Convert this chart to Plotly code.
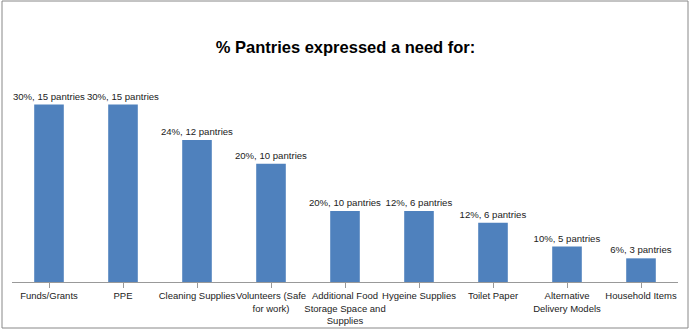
import plotly.graph_objects as go

categories = ["Funds/Grants", "PPE", "Cleaning Supplies", "Volunteers (Safe<br>for work)",
              "Additional Food<br>Storage Space and<br>Supplies", "Hygeine Supplies", "Toilet Paper",
              "Alternative<br>Delivery Models", "Household Items"]
values = [30, 30, 24, 20, 12, 12, 10, 6, 4]
labels = ["30%, 15 pantries", "30%, 15 pantries", "24%, 12 pantries", "20%, 10 pantries",
          "20%, 10 pantries", "12%, 6 pantries", "12%, 6 pantries", "10%, 5 pantries",
          "6%, 3 pantries"]

FONT = "Liberation Sans, Arial, sans-serif"

fig = go.Figure(go.Bar(
    x=list(range(len(categories))), y=values, text=labels, textposition="outside",
    constraintext="none", cliponaxis=False,
    marker=dict(color="#4F81BD", line=dict(width=0)),
    textfont=dict(family=FONT, size=9.6, color="#222"),
))

W, H = 691, 332
L, R, T, B = 12, 13, 75, 50
pw, ph = W - L - R, H - T - B

fig.update_layout(
    width=W, height=H, margin=dict(l=L, r=R, t=T, b=B, autoexpand=False),
    paper_bgcolor="white", plot_bgcolor="white", bargap=0.6, showlegend=False,
    title=dict(text="<b>% Pantries expressed a need for:</b>", x=0.5, xanchor="center",
               y=1 - 47 / H, yanchor="middle",
               font=dict(family=FONT, size=16.5, color="black")),
    xaxis=dict(tickmode="array", tickvals=list(range(len(categories))), ticktext=categories,
               tickangle=0, automargin=False,
               ticks="outside", tickson="boundaries", ticklen=5, tickcolor="#999",
               showline=True, linecolor="#999", linewidth=1, showgrid=False,
               range=[-0.5, len(categories) - 0.5],
               tickfont=dict(family=FONT, size=9.5, color="#222")),
    yaxis=dict(range=[0, 35], visible=False, showgrid=False, automargin=False),
    shapes=[dict(type="rect", xref="paper", yref="paper",
                 x0=(2 - L) / pw, x1=(688 - L) / pw,
                 y0=(H - B - 328) / ph, y1=(H - B - 1) / ph,
                 line=dict(color="#888", width=1), fillcolor="rgba(0,0,0,0)", layer="below")],
)

fig.write_html("out.html")
